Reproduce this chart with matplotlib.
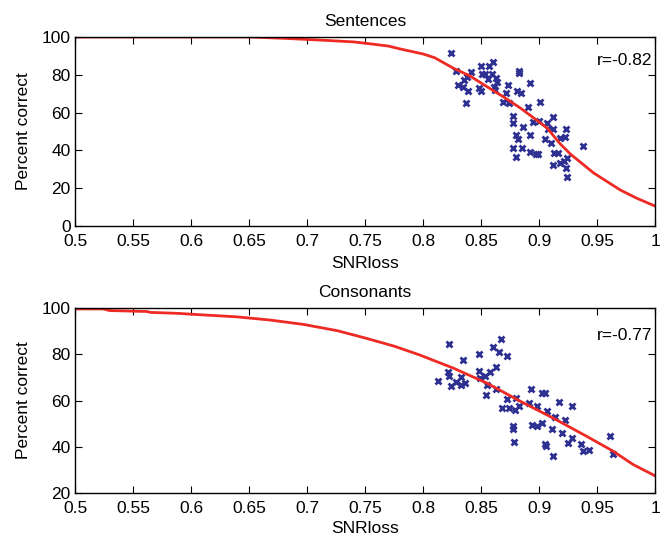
import matplotlib
matplotlib.use('Agg')
import matplotlib.pyplot as plt

plt.rcParams['font.family'] = ['Liberation Sans', 'DejaVu Sans']

# Sentences panel
sent_x = [0.824, 0.828, 0.841, 0.850, 0.857, 0.860, 0.851, 0.853, 0.859, 0.830,
          0.835, 0.838, 0.834, 0.839, 0.837, 0.848, 0.850, 0.856, 0.863, 0.864,
          0.861, 0.862, 0.873, 0.883, 0.883, 0.892, 0.881, 0.884, 0.871, 0.869,
          0.874, 0.890, 0.901, 0.877, 0.877, 0.886, 0.895, 0.900, 0.907, 0.912,
          0.908, 0.912, 0.923, 0.880, 0.882, 0.892, 0.905, 0.910, 0.918, 0.922,
          0.938, 0.877, 0.885, 0.880, 0.892, 0.897, 0.899, 0.913, 0.916, 0.924,
          0.921, 0.912, 0.923, 0.924, 0.918]
sent_y = [91.7, 82.2, 81.5, 84.7, 84.7, 86.8, 80.3, 80.3, 80.3, 74.6,
          77.2, 79.0, 73.7, 71.6, 64.9, 72.9, 71.4, 77.6, 78.5, 76.3,
          73.7, 72.0, 74.6, 82.2, 81.1, 75.5, 71.6, 70.2, 70.2, 65.8,
          64.9, 63.1, 65.4, 58.2, 54.7, 52.2, 55.2, 55.6, 54.7, 57.5,
          51.2, 51.2, 51.2, 48.1, 45.9, 48.1, 45.9, 43.8, 46.4, 47.2,
          42.5, 41.1, 41.1, 36.3, 39.0, 38.1, 38.1, 38.5, 38.5, 35.8,
          34.6, 32.3, 30.5, 25.8, 33.5]
sent_fit_x = [0.5, 0.60, 0.65, 0.68, 0.71, 0.74, 0.75, 0.77, 0.78, 0.80,
              0.81, 0.826, 0.84, 0.855, 0.87, 0.884, 0.90, 0.907, 0.918, 0.927,
              0.947, 0.97, 0.984, 1.0]
sent_fit_y = [100, 100, 100, 99.3, 98.4, 97.4, 96.7, 95.2, 93.7, 91.0,
              89.0, 83.5, 79.5, 73.7, 68.0, 62.3, 55.0, 51.7, 43.5, 38.0,
              28.0, 19.0, 14.7, 10.5]

# Consonants panel
cons_x = [0.822, 0.867, 0.860, 0.865, 0.872, 0.848, 0.834, 0.821, 0.822, 0.813,
          0.824, 0.828, 0.833, 0.833, 0.836, 0.848, 0.849, 0.853, 0.858, 0.863,
          0.855, 0.854, 0.863, 0.872, 0.868, 0.874, 0.879, 0.880, 0.883, 0.891,
          0.893, 0.902, 0.905, 0.898, 0.907, 0.917, 0.928, 0.914, 0.922, 0.894,
          0.898, 0.902, 0.877, 0.877, 0.911, 0.920, 0.928, 0.925, 0.878, 0.905,
          0.906, 0.936, 0.938, 0.943, 0.912, 0.961, 0.964]
cons_y = [84.4, 86.6, 83.3, 80.8, 79.4, 80.0, 77.5, 72.5, 70.6, 68.4,
          66.4, 67.9, 70.0, 66.7, 67.4, 72.8, 69.6, 70.6, 72.5, 74.6,
          66.7, 62.4, 64.8, 60.5, 56.9, 56.6, 55.9, 61.0, 57.6, 59.1,
          64.8, 63.4, 63.4, 57.6, 55.6, 59.5, 57.6, 52.7, 51.6, 49.4,
          49.0, 50.1, 49.0, 47.5, 47.5, 46.1, 43.7, 41.5, 42.2, 41.2,
          40.3, 41.2, 38.3, 38.6, 36.0, 44.6, 36.9]
cons_fit_x = [0.5, 0.524, 0.530, 0.562, 0.565, 0.588, 0.611, 0.639, 0.668, 0.697,
              0.726, 0.751, 0.775, 0.797, 0.826, 0.855, 0.884, 0.912, 0.941, 0.964,
              0.981, 1.0]
cons_fit_y = [99.6, 99.6, 98.9, 98.5, 98.1, 97.7, 97.0, 96.2, 94.8, 92.9,
              90.2, 86.9, 83.5, 79.7, 74.0, 67.5, 59.6, 52.4, 44.5, 38.0,
              32.3, 27.4]

xticks = [0.5, 0.55, 0.6, 0.65, 0.7, 0.75, 0.8, 0.85, 0.9, 0.95, 1.0]
xticklabels = ['0.5', '0.55', '0.6', '0.65', '0.7', '0.75', '0.8', '0.85', '0.9', '0.95', '1']

fig = plt.figure(figsize=(6.7, 5.4), dpi=100)
ax1 = fig.add_axes([0.112, 0.5815, 0.866, 0.350])
ax2 = fig.add_axes([0.112, 0.087, 0.866, 0.3426])

FS = 12.5
panels = [
    (ax1, sent_x, sent_y, sent_fit_x, sent_fit_y, 'Sentences', 'r=-0.82', (0, 100), [0, 20, 40, 60, 80, 100], 0.878, -0.196),
    (ax2, cons_x, cons_y, cons_fit_x, cons_fit_y, 'Consonants', 'r=-0.77', (20, 100), [20, 40, 60, 80, 100], 0.85, -0.19),
]

for ax, px, py, fx, fy, title, rtxt, ylim, yt, ry, xly in panels:
    ax.plot(px, py, linestyle='none', marker='x', color='#2e3192',
            markersize=5, markeredgewidth=2)
    ax.plot(fx, fy, color='#ee2a24', linewidth=2)
    ax.set_xlim(0.5, 1.0)
    ax.set_ylim(*ylim)
    ax.set_xticks(xticks)
    ax.set_xticklabels(xticklabels)
    ax.set_yticks(yt)
    ax.tick_params(direction='in', length=5, labelsize=FS, top=True, right=True,
                   labeltop=False, labelright=False)
    ax.tick_params(axis='x', pad=6)
    ax.tick_params(axis='y', pad=3)
    ax.set_title(title, fontsize=FS, pad=8)
    ax.set_xlabel('SNRloss', fontsize=FS)
    ax.xaxis.set_label_coords(0.5, xly)
    ax.xaxis.label.set_va('center')
    ax.set_ylabel('Percent correct', fontsize=FS)
    ax.yaxis.set_label_coords(-0.088, 0.5)
    ax.yaxis.label.set_va('center')
    ax.text(0.995, ry, rtxt, transform=ax.transAxes, ha='right', va='center', fontsize=FS)
    for s in ax.spines.values():
        s.set_linewidth(1.0)

fig.savefig('out.png', dpi=100)
